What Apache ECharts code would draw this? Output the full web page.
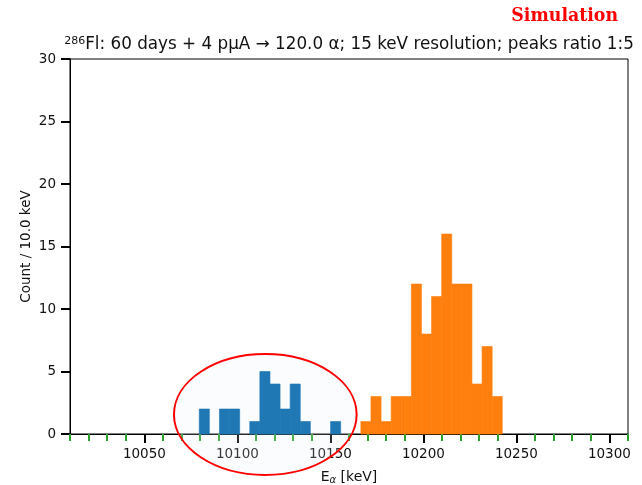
<!DOCTYPE html>
<html>
<head>
<meta charset="utf-8">
<script src="https://cdn.jsdelivr.net/npm/echarts@6/dist/echarts.min.js"></script>
<style>
  html, body { margin: 0; padding: 0; background: #ffffff; }
  #chart { width: 642px; height: 485px; }
</style>
</head>
<body>
<div id="chart"></div>
<script>
// 30 equal-width bins spanning both alpha peaks
const histStart = 10079.5;   // keV, left edge of the first bin
const binWidth = 5.43;       // keV

// Counts per bin for each decay line
const lowPeakCounts  = [2, 0, 2, 2, 0, 1, 5, 4, 2, 4, 1, 0, 0, 1, 0,
                        0, 0, 0, 0, 0, 0, 0, 0, 0, 0, 0, 0, 0, 0, 0];
const highPeakCounts = [0, 0, 0, 0, 0, 0, 0, 0, 0, 0, 0, 0, 0, 0, 0,
                        0, 1, 3, 1, 3, 3, 12, 8, 11, 16, 12, 12, 4, 7, 3];

// Axis ticks
const xMajorTicks = [10050, 10100, 10150, 10200, 10250, 10300];
const xMinorTicks = [10010, 10020, 10030, 10040, 10060, 10070, 10080, 10090,
                     10110, 10120, 10130, 10140, 10160, 10170, 10180, 10190,
                     10210, 10220, 10230, 10240, 10260, 10270, 10280, 10290, 10310];
const yTicks = [0, 5, 10, 15, 20, 25, 30];

// Highlight ellipse around the weaker line (data units)
const markerCenter = [10115, 1.56];
const markerRadii = [49.1, 4.84];

const FONT = 'DejaVu Sans';

function toBins(counts) {
  const out = [];
  counts.forEach((c, i) => {
    if (c > 0) out.push([histStart + i * binWidth, histStart + (i + 1) * binWidth, c]);
  });
  return out;
}

function histRenderer(color) {
  return function (params, api) {
    const p0 = api.coord([api.value(0), api.value(2)]);
    const p1 = api.coord([api.value(1), 0]);
    return {
      type: 'rect',
      shape: { x: p0[0], y: p0[1], width: p1[0] - p0[0], height: p1[1] - p0[1] },
      style: { fill: color, stroke: color, lineWidth: 0.6 }
    };
  };
}

const chart = echarts.init(document.getElementById('chart'), null, { renderer: 'canvas' });

chart.setOption({
  animation: false,
  backgroundColor: '#ffffff',
  title: [
    {
      text: '{sup|286}Fl: 60 days + 4 pμA → 120.0 α; 15 keV resolution; peaks ratio 1:5',
      left: 344,
      top: 31,
      textAlign: 'center',
      textStyle: {
        fontFamily: FONT, fontSize: 16.8, fontWeight: 'normal', color: '#111',
        rich: {
          sup: { fontFamily: FONT, fontSize: 11, color: '#111', verticalAlign: 'top', padding: [0, 0, 7, 0] }
        }
      }
    },
    {
      text: 'Simulation',
      right: 19,
      top: 1,
      textStyle: {
        fontFamily: 'DejaVu Serif Condensed', fontSize: 19.3, fontWeight: 'bold', color: '#ff0000'
      }
    }
  ],
  grid: {
    left: 70, right: 14, top: 59, bottom: 51,
    outerBoundsMode: 'none',
    containLabel: false,
    show: true, borderColor: '#000', borderWidth: 1, backgroundColor: 'transparent'
  },
  xAxis: [
    {
      type: 'value', min: 10010, max: 10310, position: 'bottom',
      name: 'E{sub|α} [keV]', nameLocation: 'middle', nameGap: 36,
      nameMoveOverlap: false,
      nameTextStyle: {
        fontFamily: FONT, fontSize: 14, color: '#111',
        rich: { sub: { fontFamily: FONT, fontSize: 10, fontStyle: 'italic', color: '#111', verticalAlign: 'bottom', padding: [5, 0, 0, 0] } }
      },
      axisLine: { show: true, lineStyle: { color: '#000', width: 1 } },
      axisTick: { show: true, customValues: xMajorTicks, length: 9, lineStyle: { color: '#000', width: 2 } },
      axisLabel: {
        customValues: xMajorTicks, fontFamily: FONT, fontSize: 13.5, color: '#111', margin: 13,
        formatter: v => String(v)
      },
      splitLine: { show: false }
    },
    {
      type: 'value', min: 10010, max: 10310, position: 'bottom',
      axisLine: { show: false },
      axisTick: { show: true, customValues: xMinorTicks, length: 7, lineStyle: { color: '#2ca02c', width: 2 } },
      axisLabel: { show: false },
      splitLine: { show: false }
    }
  ],
  yAxis: {
    type: 'value', min: 0, max: 30, interval: 5,
    name: 'Count / 10.0 keV', nameLocation: 'middle', nameGap: 37,
    nameMoveOverlap: false,
    nameTextStyle: { fontFamily: FONT, fontSize: 13.5, color: '#111' },
    axisLine: { show: true, lineStyle: { color: '#000', width: 1 } },
    axisTick: { show: true, length: 9, lineStyle: { color: '#000', width: 2 } },
    axisLabel: {
      fontFamily: FONT, fontSize: 13.5, color: '#111', margin: 14,
      formatter: v => (yTicks.indexOf(v) >= 0 ? String(v) : '')
    },
    splitLine: { show: false }
  },
  series: [
    {
      type: 'custom',
      name: 'marker',
      xAxisIndex: 0,
      z: 1,
      clip: false,
      silent: true,
      data: [markerCenter],
      renderItem: function (params, api) {
        const c = api.coord([api.value(0), api.value(1)]);
        const s = api.size(markerRadii);
        return {
          type: 'ellipse',
          shape: { cx: c[0], cy: c[1], rx: s[0], ry: s[1] },
          style: { fill: 'rgba(225,236,250,0.18)', stroke: '#ff0000', lineWidth: 2 }
        };
      }
    },
    {
      type: 'custom',
      name: 'low',
      xAxisIndex: 0,
      z: 2,
      data: toBins(lowPeakCounts),
      encode: { x: [0, 1], y: 2 },
      renderItem: histRenderer('#1f77b4')
    },
    {
      type: 'custom',
      name: 'high',
      xAxisIndex: 0,
      z: 2,
      data: toBins(highPeakCounts),
      encode: { x: [0, 1], y: 2 },
      renderItem: histRenderer('#ff7f0e')
    }
  ]
});
</script>
</body>
</html>
